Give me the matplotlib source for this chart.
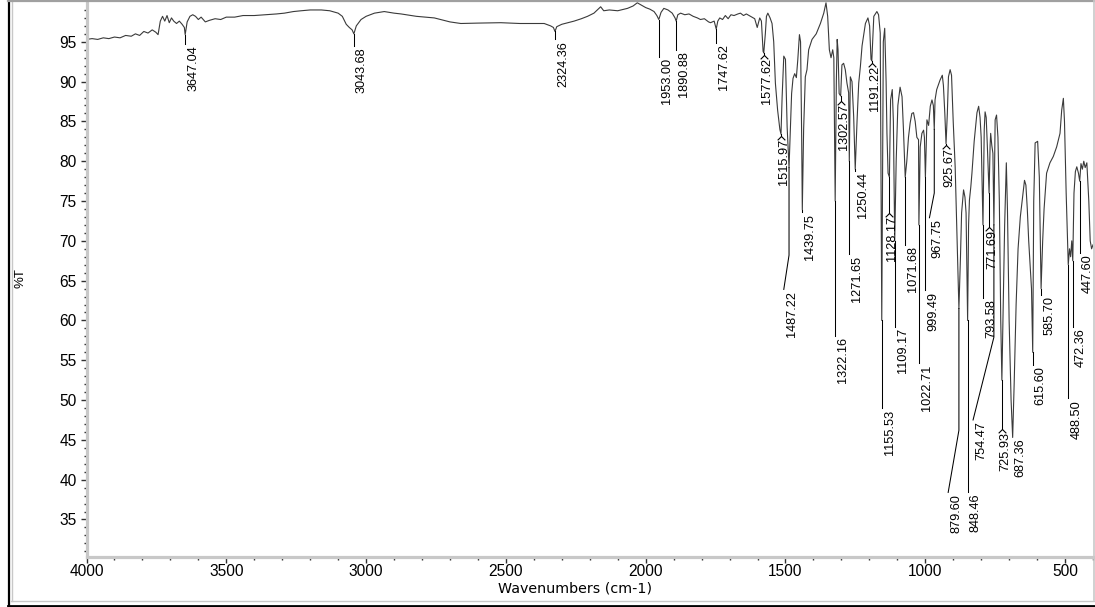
import numpy as np
import matplotlib
matplotlib.use("Agg")
import matplotlib.pyplot as plt
from matplotlib.lines import Line2D

# ---------------- spectrum (wavenumber in cm-1, %T) ----------------
wavenumber = [
    4000, 3980, 3960, 3940, 3920, 3900, 3880, 3860, 3840, 3825, 3810, 3795, 3780, 3765, 3752,
    3744, 3736, 3728, 3720, 3712, 3704, 3696, 3688, 3678, 3668, 3658, 3650, 3647.04, 3640, 3630,
    3620, 3610, 3600, 3590, 3575, 3560, 3540, 3520, 3500, 3470, 3440, 3400, 3360, 3320, 3292,
    3260, 3232, 3200, 3160, 3130, 3100, 3085, 3071, 3060, 3050, 3043.68, 3035, 3018, 3000, 2970,
    2935, 2900, 2875, 2820, 2756, 2700, 2661, 2600, 2518, 2450, 2400, 2363, 2340, 2330, 2324.36,
    2318, 2300, 2256, 2230, 2208, 2185, 2161, 2150, 2130, 2100, 2065, 2045, 2030, 2020, 2000,
    1985, 1970, 1960, 1953.00, 1945, 1935, 1920, 1905, 1895, 1890.88, 1885, 1875, 1860, 1845, 1830,
    1815, 1804, 1790, 1775, 1768, 1755, 1747.62, 1742, 1735, 1725, 1715, 1705, 1695, 1684, 1670,
    1661, 1650, 1640, 1625, 1610, 1601, 1592, 1586, 1580, 1577.62, 1572, 1568, 1563, 1555, 1548,
    1542, 1536, 1528, 1520, 1515.97, 1512, 1506, 1500, 1494, 1487.22, 1482, 1478, 1473, 1467, 1461,
    1456, 1450, 1446, 1442, 1439.75, 1435, 1429, 1423, 1417, 1405, 1390, 1375, 1363, 1355, 1349,
    1343, 1337, 1331, 1327, 1322.16, 1318, 1315, 1312, 1308, 1302.57, 1298, 1292, 1286, 1280, 1274,
    1271.65, 1268, 1262, 1256, 1250.44, 1244, 1238, 1232, 1226, 1214, 1205, 1199, 1194, 1191.22, 1188,
    1184, 1173, 1167, 1161, 1155.53, 1150, 1145, 1140, 1137, 1133, 1128.17, 1124, 1118, 1114, 1109.17,
    1104, 1098, 1090, 1083, 1078, 1071.68, 1066, 1060, 1054, 1048, 1042, 1036, 1030, 1024, 1022.71,
    1018, 1012, 1006, 1003, 999.49, 994, 988, 982, 976, 971, 967.75, 965, 959, 953, 947,
    939, 935, 930, 925.67, 921, 917, 911, 906, 900, 893, 886, 879.60, 874, 870, 863,
    858, 854, 848.46, 845, 842, 837, 833, 825, 815, 809, 804, 800, 793.58, 789, 786,
    782, 778, 771.69, 768, 766, 762, 758, 754.47, 750, 745, 740, 735, 730, 725.93, 722,
    716, 710, 706, 700, 693, 687.36, 682, 675, 668, 660, 652, 645, 640, 635, 630,
    625, 620, 615.60, 612, 607, 598, 592, 585.70, 580, 575, 571, 566, 554, 542, 530,
    518, 512, 506, 502, 496, 488.50, 484, 480, 476, 472.36, 468, 463, 458, 452, 447.60,
    443, 438, 433, 428, 422, 415, 410, 405, 400,
]
transmittance = [
    95.3, 95.4, 95.3, 95.5, 95.4, 95.6, 95.5, 95.8, 95.7, 96.0, 95.8, 96.3, 96.1, 96.5, 96.2,
    95.9, 97.6, 98.2, 97.6, 98.3, 97.4, 98.0, 97.6, 97.3, 97.6, 97.2, 96.8, 95.9, 97.5, 98.2,
    98.4, 98.2, 97.8, 98.1, 97.5, 97.7, 97.9, 97.8, 98.1, 98.1, 98.3, 98.3, 98.4, 98.5, 98.6,
    98.8, 98.9, 99.0, 99.0, 98.9, 98.6, 98.2, 97.2, 96.8, 96.5, 96.0, 97.0, 97.8, 98.2, 98.6,
    98.8, 98.6, 98.5, 98.2, 98.0, 97.5, 97.3, 97.35, 97.4, 97.3, 97.3, 97.3, 97.0, 96.8, 96.3,
    96.9, 97.2, 97.6, 97.9, 98.2, 98.6, 99.4, 98.9, 99.0, 98.9, 99.2, 99.5, 99.9, 99.7, 99.3,
    99.1, 98.8, 98.3, 97.8, 98.7, 99.2, 99.0, 98.6, 98.0, 97.6, 98.4, 98.6, 98.4, 98.5, 98.2,
    98.0, 97.8, 97.9, 97.5, 97.4, 97.6, 96.6, 97.6, 98.0, 97.8, 98.3, 97.9, 98.4, 98.3, 98.5,
    98.6, 98.3, 98.5, 98.2, 97.9, 96.8, 98.0, 97.6, 93.8, 93.6, 96.0, 98.2, 98.6, 98.0, 97.3,
    95.0, 89.8, 86.4, 84.0, 83.4, 88.0, 93.2, 92.8, 84.3, 79.2, 84.3, 88.5, 90.4, 91.0, 90.5,
    92.7, 95.9, 95.0, 83.0, 73.9, 84.0, 90.6, 91.5, 94.0, 95.3, 96.0, 97.3, 98.6, 99.9, 98.2,
    94.0, 93.0, 94.0, 93.0, 75.0, 90.0, 95.3, 94.0, 88.5, 88.2, 92.1, 92.3, 91.5, 89.8, 88.6,
    80.0, 90.6, 90.0, 85.6, 79.0, 85.0, 89.8, 91.9, 94.5, 97.3, 98.0, 97.0, 92.8, 92.6, 95.0,
    98.2, 98.8, 98.4, 96.1, 60.0, 95.0, 96.7, 90.0, 83.5, 78.5, 78.0, 87.7, 89.0, 85.0, 70.0,
    80.0, 87.0, 89.3, 88.1, 84.0, 78.0, 80.0, 83.0, 84.8, 86.0, 86.1, 85.0, 83.0, 82.7, 72.0,
    81.8, 83.5, 83.9, 83.0, 78.0, 85.2, 84.5, 86.9, 87.7, 87.0, 84.0, 87.7, 89.0, 89.6, 90.2,
    90.8, 89.5, 86.0, 82.2, 86.0, 90.6, 91.5, 90.8, 85.0, 79.3, 70.0, 61.5, 68.0, 73.5, 76.4,
    75.5, 73.5, 60.0, 72.0, 75.1, 76.8, 78.5, 82.5, 86.1, 86.9, 85.5, 83.0, 72.0, 84.0, 86.2,
    85.5, 82.0, 76.0, 82.0, 83.5, 82.0, 81.0, 72.0, 85.2, 85.8, 83.0, 75.0, 60.0, 52.5, 60.0,
    72.0, 79.8, 74.0, 60.0, 50.0, 45.3, 52.0, 62.0, 69.0, 73.0, 75.5, 77.6, 77.0, 74.0, 70.0,
    67.0, 64.0, 56.0, 75.0, 82.3, 82.5, 78.0, 64.0, 70.0, 74.0, 76.0, 78.5, 79.8, 80.6, 81.8,
    83.5, 86.4, 87.9, 85.0, 76.0, 67.0, 69.0, 68.0, 70.0, 67.5, 76.0, 78.7, 79.3, 78.5, 77.5,
    79.7, 79.0, 80.0, 79.2, 79.8, 75.0, 70.0, 69.0, 69.5,
]

# ---------------- peak annotations ----------------
peak_wn = [3647.04, 3043.68, 2324.36, 1953.00, 1890.88, 1747.62, 1577.62, 1515.97, 1487.22,
           1439.75, 1322.16, 1302.57, 1271.65, 1250.44, 1191.22, 1155.53, 1128.17, 1109.17,
           1071.68, 1022.71, 999.49, 967.75, 925.67, 879.60, 848.46, 793.58, 771.69, 754.47,
           725.93, 687.36, 615.60, 585.70, 488.50, 472.36, 447.60]
# %T level where each vertical leader ends
leader_end = [94.75, 94.5, 95.3, 93.1, 94.0, 94.9, 93.4, 83.2, 68.2,
              73.6, 58.1, 87.6, 68.3, 78.8, 92.4, 49.0, 73.5, 59.2,
              69.5, 54.6, 63.8, 76.0, 82.0, 46.2, 38.4, 62.8, 71.7, 57.9,
              46.4, 45.3, 54.4, 63.2, 50.2, 59.2, 68.5]
# leaders that bend towards a shifted label: index -> (wavenumber, %T)
bent_to = {8: (1506, 63.9), 21: (985, 72.9), 23: (918, 38.4), 27: (829, 47.5)}
# labels set directly under the band, marked with a small arrow head
arrow_heads = {6, 7, 11, 14, 16, 22, 26, 28}

# ---------------- figure ----------------
W, H = 1095, 607
fig = plt.figure(figsize=(W / 100, H / 100), dpi=100)
plt.rcParams['font.family'] = ['Liberation Sans', 'DejaVu Sans']

x0, x1, ytop, ybot = 86.5, 1093, 2, 556.5
ax = fig.add_axes([x0 / W, 1 - ybot / H, (x1 - x0) / W, (ybot - ytop) / H])
ax.set_xlim(4000, 400)
ax.set_ylim(30.35, 100.0)

ax.plot(wavenumber, transmittance, color='#3a3a3a', lw=0.8)

wn_asc = np.array(wavenumber)[::-1]
t_asc = np.array(transmittance)[::-1]
caret = [(-1.0, -1.0), (0.0, 0.0), (1.0, -1.0)]
for i, wn in enumerate(peak_wn):
    t0 = np.interp(wn, wn_asc, t_asc)
    xs, ys = [wn, wn], [t0, leader_end[i]]
    if i in bent_to:
        xs.append(bent_to[i][0])
        ys.append(bent_to[i][1])
    ax.plot(xs, ys, color='black', lw=0.75)
    tx, ty = xs[-1], ys[-1]
    if i in arrow_heads:
        ax.plot([tx], [ty], marker=caret, ms=5.5, mfc='none', mec='black', mew=0.8,
                linestyle='none')
        off = (2.2, -2.2)
    else:
        off = (5.8, -1.0)
    ax.annotate(f"{wn:.2f}", xy=(tx, ty), xytext=off, textcoords='offset points',
                rotation=90, ha='center', va='top', fontsize=9.2, color='black')

# axes styling
for side in ('top', 'right'):
    ax.spines[side].set_visible(False)
for side in ('left', 'bottom'):
    ax.spines[side].set_color('#c8c8c8')
    ax.spines[side].set_linewidth(2.3)
ax.set_xticks(np.arange(4000, 399, -500))
ax.set_xticks(np.arange(4000, 399, -100), minor=True)
ax.set_yticks(np.arange(35, 100, 5))
ax.set_yticks(np.arange(31, 100, 1), minor=True)
ax.tick_params(which='major', length=4, width=1.0, color='#303030', labelsize=11.2, pad=3)
ax.tick_params(which='minor', length=2, width=1.0, color='#303030')
ax.tick_params(axis='x', which='major', pad=1.2)

ax.set_xlabel('Wavenumbers (cm-1)', fontsize=10.3, family='DejaVu Sans')
ax.xaxis.set_label_coords((575 - x0) / (x1 - x0), -(588 - ybot) / (ybot - ytop))
ax.xaxis.label.set_va('center')
ax.set_ylabel('%T', fontsize=9.5)
ax.yaxis.set_label_coords((21 - x0) / (x1 - x0), 1 - (278 - ytop) / (ybot - ytop))
ax.yaxis.label.set_va('center')

# panel frame
def fline(xa, ya, xb, yb, color, lw):
    fig.add_artist(Line2D([xa / W, xb / W], [1 - ya / H, 1 - yb / H],
                          transform=fig.transFigure, color=color, lw=lw))

fline(8.5, 0, 8.5, 607, 'black', 1.6)
fline(8, 605.5, 1095, 605.5, 'black', 2.0)
fline(11.5, 0, 11.5, 601, '#c8c8c8', 1.0)
fline(11, 600.5, 1095, 600.5, '#c8c8c8', 1.0)
fline(8, 1, 1095, 1, '#a0a0a0', 1.6)
fline(1093.5, 0, 1093.5, 600, '#c8c8c8', 1.2)

fig.savefig('out.png', dpi=100)
